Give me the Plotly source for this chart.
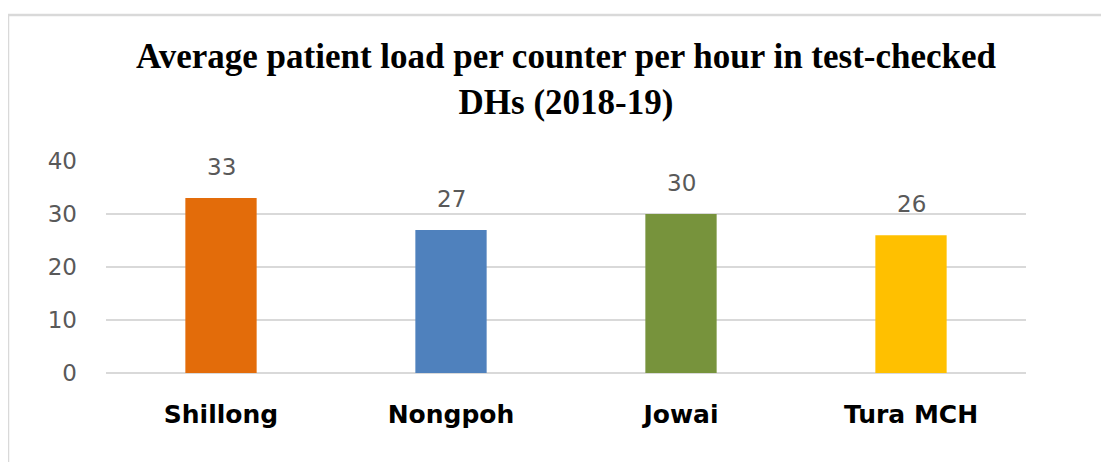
import plotly.graph_objects as go

categories = ["Shillong", "Nongpoh", "Jowai", "Tura MCH"]
values = [33, 27, 30, 26]
colors = ["#E36C0A", "#4F81BD", "#77933C", "#FFC000"]
y_ticks = [0, 10, 20, 30, 40]

# the page body has an 8px default margin, so screen coords are shifted by 8
OFF = 8
W, H = 1109, 462
L, T = 106 - OFF, 161 - OFF
R = W - (1026 - OFF)
B = H - (373 - OFF)
pw, ph = W - L - R, H - T - B


def px(xs):
    return (xs - OFF - L) / pw


def py(ys):
    return 1 - (ys - OFF - T) / ph


fig = go.Figure()
fig.add_trace(go.Bar(
    x=categories, y=values, marker=dict(color=colors, line=dict(width=0)),
    width=0.31, hoverinfo="skip",
))

for c, v in zip(categories, values):
    fig.add_annotation(x=c, y=v, text=str(v), showarrow=False, yanchor="middle",
                       yshift=31, font=dict(family="DejaVu Sans", size=23, color="#595959"))

fig.add_annotation(xref="paper", yref="paper", x=px(566), y=py(79),
                   text="<b>Average patient load per counter per hour in test-checked<br>DHs (2018-19)</b>",
                   showarrow=False, xanchor="center", yanchor="middle",
                   font=dict(family="Liberation Serif", size=35, color="#000000"))

fig.add_shape(type="line", xref="paper", yref="paper", x0=px(8), x1=px(1125), y0=py(15), y1=py(15),
              line=dict(color="#D9D9D9", width=2.5))
fig.add_shape(type="line", xref="paper", yref="paper", x0=px(8), x1=px(8), y0=py(15), y1=py(480),
              line=dict(color="#D9D9D9", width=2.5))

fig.update_layout(
    width=W, height=H, margin=dict(l=L, r=R, t=T, b=B),
    paper_bgcolor="white", plot_bgcolor="white", showlegend=False,
    xaxis=dict(showgrid=False, showline=False, zeroline=False, ticks="",
               ticklabelstandoff=24,
               tickfont=dict(family="DejaVu Sans", size=25, color="#000000", weight="bold")),
    yaxis=dict(range=[0, 40], tickvals=y_ticks, showgrid=True, gridcolor="#D9D9D9", gridwidth=2,
               zeroline=True, zerolinecolor="#D9D9D9", zerolinewidth=2, showline=False,
               ticks="", ticklabelstandoff=28,
               tickfont=dict(family="DejaVu Sans", size=23, color="#595959")),
)

fig.write_html("out.html")
